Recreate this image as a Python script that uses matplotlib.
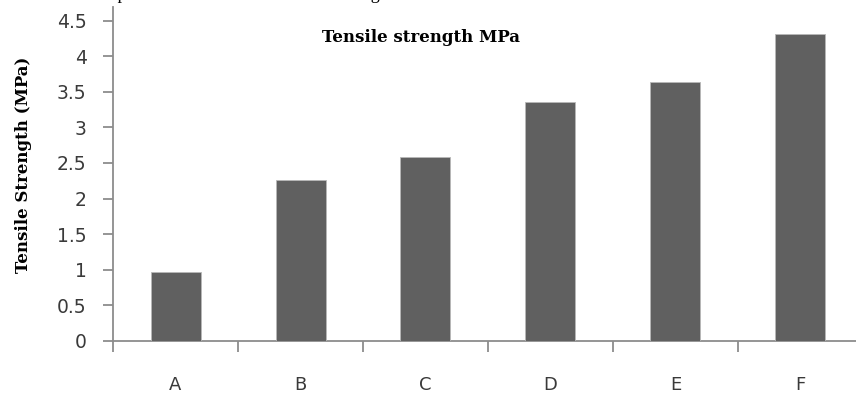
import matplotlib
matplotlib.use("Agg")
import matplotlib.pyplot as plt
from matplotlib.ticker import FixedLocator, NullFormatter

categories = ["A", "B", "C", "D", "E", "F"]
tensile_strength = [0.97, 2.26, 2.59, 3.35, 3.63, 4.31]
y_ticks = [0, 0.5, 1, 1.5, 2, 2.5, 3, 3.5, 4, 4.5]
y_tick_labels = ["0", "0.5", "1", "1.5", "2", "2.5", "3", "3.5", "4", "4.5"]

W, H = 856, 394
fig = plt.figure(figsize=(W / 100, H / 100), dpi=100)
fig.patch.set_facecolor("white")

# plot area runs slightly past the right edge of the figure
left, right = 113 / W, 863 / W
bottom, top = (H - 341) / H, (H - 7) / H
ax = fig.add_axes([left, bottom, right - left, top - bottom])

axis_grey = "#8c8c8c"
bar_grey = "#606060"
label_col = "#3a3a3a"
tick_font = ["DejaVu Sans"]
serif_bold = dict(fontfamily="DejaVu Serif", fontweight="bold", color="black")

x = list(range(len(categories)))
ax.bar(x, tensile_strength, width=0.4, color=bar_grey,
       edgecolor="#b8b8b8", linewidth=0.6, zorder=3)

ax.set_xlim(-0.5, len(categories) - 0.5)
ax.set_ylim(0, 4.69)

for s in ("top", "right"):
    ax.spines[s].set_visible(False)
for s in ("left", "bottom"):
    ax.spines[s].set_color(axis_grey)
    ax.spines[s].set_linewidth(1.3)

ax.yaxis.set_major_locator(FixedLocator(y_ticks))
ax.set_yticklabels(y_tick_labels)
ax.tick_params(axis="y", direction="out", length=7, width=1.3,
               color=axis_grey, pad=12, labelsize=13.5, labelcolor=label_col)

# category boundaries carry the tick marks, names sit centred below
ax.xaxis.set_major_locator(FixedLocator([i - 0.5 for i in range(len(categories) + 1)]))
ax.xaxis.set_major_formatter(NullFormatter())
ax.xaxis.set_minor_locator(FixedLocator(x))
ax.set_xticklabels(categories, minor=True)
ax.tick_params(axis="x", which="major", direction="out", length=8, width=1.3,
               color=axis_grey)
ax.tick_params(axis="x", which="minor", length=0, pad=25, labelsize=13,
               labelcolor=label_col)

for lbl in ax.get_yticklabels() + ax.get_xticklabels(minor=True):
    lbl.set_fontfamily(tick_font)

fig.text(24 / W, (H - 165) / H, "Tensile Strength (MPa)", rotation=90,
         ha="center", va="center", fontsize=12, **serif_bold)

fig.text(420.5 / W, (H - 37) / H, "Tensile strength MPa",
         ha="center", va="center", fontsize=12, **serif_bold)

# tail of the running text line above, cut by the top edge
fig.text(0.07, 1.0 + 1 / H, "the comparative of the materials and coating",
         ha="left", va="baseline", fontfamily="Liberation Serif",
         fontsize=13, color="black")

fig.savefig("out.png", dpi=100)
